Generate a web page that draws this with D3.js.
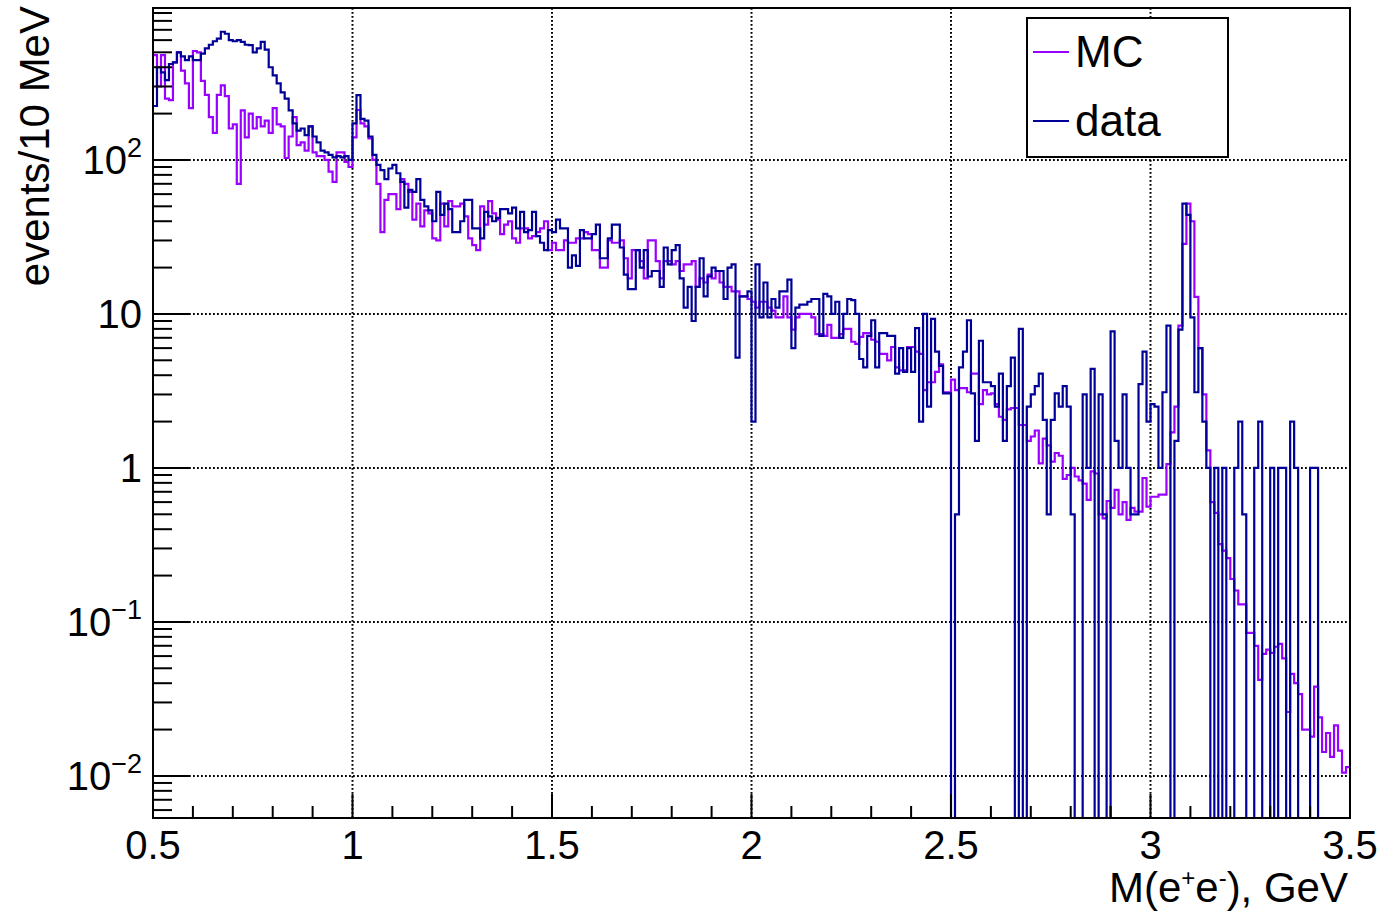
<!DOCTYPE html>
<html>
<head>
<meta charset="utf-8">
<script src="https://cdn.jsdelivr.net/npm/d3@7"></script>
<style>
  body { margin: 0; background: #fff; }
  svg { display: block; font-family: 'Liberation Sans', Arial, Helvetica, sans-serif; }
</style>
</head>
<body>
<svg class="chart"></svg>
<script>
// binning: 300 bins of 10 MeV from 0.5 to 3.5 GeV
const binLow = 0.5;
const binWidth = 0.01;

const mcValues = [
  480, 300, 480, 250, 245, 430, 500, 380, 314, 217,
  510, 500, 326, 265, 190, 150, 265, 305, 260, 160,
  170, 70, 210, 140, 200, 160, 190, 165, 180, 150,
  217, 170, 165, 103, 142, 190, 125, 130, 115, 165,
  112, 106, 106, 100, 84, 72, 112, 112, 97, 90,
  140, 211, 173, 165, 138, 100, 70, 34, 55, 60,
  60, 48, 75, 70, 62, 41, 52, 37, 47, 45,
  31, 30, 52, 37, 54, 50, 50, 52, 43, 31,
  28, 26, 50, 38, 54, 45, 41, 33, 38, 40,
  31, 29, 36, 36, 31, 32, 34, 36, 40, 26,
  29, 26, 26, 30, 29, 29, 31, 31, 34, 33,
  26, 26, 20, 20, 30, 29, 29, 30, 23, 17,
  26, 26, 22, 17, 30, 30, 22, 17, 22, 22,
  21, 22, 19, 21, 21, 22, 15, 17, 16, 18,
  17, 19, 16, 15, 15, 14, 14, 13, 13, 12.5,
  12, 11, 12, 12, 11, 10.5, 9.5, 9.5, 13, 9.5,
  7.9, 9.5, 10, 10, 10, 9.5, 7.4, 7.4, 7.2, 8.5,
  7, 7, 7.4, 8, 8, 6.6, 6.4, 7.1, 7.5, 7.5,
  6.8, 6.6, 5.5, 5.5, 5, 6.1, 4.5, 4.3, 4.3, 6.1,
  6.1, 5.7, 5.5, 3.2, 3.6, 3.6, 4.2, 4.7, 3.1, 3.1,
  3.75, 3.2, 3.3, 3.3, 3.1, 4.1, 4.1, 2.6, 3.2, 3.0,
  3.05, 2.6, 2.15, 2.05, 2.4, 2.45, 2.45, 1.9, 1.9, 1.5,
  1.6, 1.75, 1.07, 1.55, 1.4, 1.1, 1.25, 1.2, 0.85, 0.9,
  1.0, 0.88, 0.83, 0.79, 0.62, 0.95, 0.92, 0.5, 0.47, 0.61,
  0.55, 0.72, 0.5, 0.6, 0.46, 0.55, 0.52, 0.52, 0.86, 0.56,
  0.65, 0.65, 0.67, 0.67, 1.06, 1.7, 2.5, 8.4, 28.5, 52,
  40, 12.9, 6, 3, 1.3, 0.6, 0.51, 0.32, 0.29, 0.26,
  0.19, 0.16, 0.13, 0.13, 0.085, 0.085, 0.07, 0.042, 0.062, 0.066,
  0.063, 0.069, 0.072, 0.058, 0.026, 0.046, 0.04, 0.034, 0.02, 0.02,
  0.018, 0.038, 0.024, 0.0143, 0.019, 0.0133, 0.0213, 0.0146, 0.0105, 0.0114,
];

const dataValues = [
  224, 400, 370, 330, 420, 430, 500, 470, 445, 470,
  445, 445, 490, 530, 560, 590, 614, 680, 660, 600,
  590, 600, 585, 560, 556, 500, 530, 585, 520, 400,
  354, 314, 275, 250, 210, 173, 155, 160, 145, 165,
  142, 130, 115, 112, 108, 104, 106, 104, 106, 100,
  173, 264, 185, 180, 142, 108, 93, 86, 75, 88,
  93, 82, 72, 49, 64, 62, 75, 55, 50, 47,
  40, 62, 44, 52, 48, 34, 34, 40, 55, 55,
  36, 36, 31, 46, 43, 40, 42, 48, 48, 45,
  49, 36, 46, 34, 35, 46, 32, 29, 26, 35,
  34, 41, 36, 36, 20, 24, 20.5, 35, 31, 31,
  33, 38, 23, 23, 31, 38, 38, 27, 18, 14.5,
  14.5, 26, 20, 26, 17.5, 19, 19, 15, 27, 21,
  26, 28, 17, 11, 15, 9, 15, 23, 13, 17.5,
  20, 19, 19, 12.5, 20, 21, 5.2, 13, 13, 14,
  2, 21, 9.5, 16, 9.5, 12.5, 11, 14, 14, 16.7,
  6, 11, 11.5, 11.5, 12, 12.5, 12.5, 7.2, 13.5, 13,
  10, 12, 7, 10, 12.5, 12.3, 10, 5.1, 4.5, 7.2,
  9.1, 4.5, 7.5, 7.5, 7.2, 7.2, 4.1, 6, 4.2, 6,
  4.2, 8.1, 2, 10, 2.5, 9.3, 5.7, 4.6, 3.05, 3.05,
  0, 0.5, 4.5, 5.7, 9.1, 3.05, 1.5, 6.7, 3.6, 3.6,
  3.4, 2.5, 4.1, 1.5, 3.4, 5.2, 0, 8, 0, 2.5,
  3, 3.4, 4.1, 2.05, 0.5, 2.05, 3.05, 2.5, 3.4, 2.5,
  0.5, 0, 0, 3, 1, 4.4, 0, 3, 0.5, 0,
  7.7, 1.5, 1, 3, 1, 0.5, 0.5, 3.5, 5.7, 2,
  2.6, 2.5, 1, 3.1, 8.4, 0, 1.5, 7.9, 52, 44,
  9.5, 3.1, 6, 2, 1, 0, 1, 0, 1, 0,
  0, 1, 2, 0.5, 0, 0, 1, 2, 0, 0,
  1, 0, 1, 1, 0, 2, 1, 0, 0, 0,
  1, 1, 0, 0, 0, 0, 0, 0, 0, 0,
];

const xTickLabels = ['0.5', '1', '1.5', '2', '2.5', '3', '3.5'];
const xTickValues = [0.5, 1, 1.5, 2, 2.5, 3, 3.5];
const yDecades = [-2, -1, 0, 1, 2];
const seriesNames = ['MC', 'data'];
const seriesColors = ['#9a00ff', '#000099'];

const width = 1385;
const height = 914;
const frame = {
  left: 153,
  right: 1350,
  top: 8,
  bottom: 818,
};

const svg = d3.select('svg.chart')
  .attr('width', width)
  .attr('height', height);

svg.append('rect')
  .attr('width', width)
  .attr('height', height)
  .attr('fill', '#fff');

const x = d3.scaleLinear().domain([0.5, 3.5]).range([frame.left, frame.right]);
const y = d3.scaleLog().domain([0.00533, 970]).range([frame.bottom, frame.top]);
const yMin = y.domain()[0];

svg.append('clipPath')
  .attr('id', 'frame-clip')
  .append('rect')
  .attr('x', frame.left)
  .attr('y', frame.top)
  .attr('width', frame.right - frame.left)
  .attr('height', frame.bottom - frame.top);

// dotted grid
const grid = svg.append('g')
  .attr('stroke', '#000')
  .attr('stroke-width', 2)
  .attr('stroke-dasharray', '1.8,2.2');

grid.selectAll('line.gx')
  .data(xTickValues.slice(1, -1))
  .enter()
  .append('line')
  .attr('x1', d => x(d))
  .attr('x2', d => x(d))
  .attr('y1', frame.top)
  .attr('y2', frame.bottom);

grid.selectAll('line.gy')
  .data(yDecades)
  .enter()
  .append('line')
  .attr('x1', frame.left)
  .attr('x2', frame.right)
  .attr('y1', d => y(10 ** d))
  .attr('y2', d => y(10 ** d));

// step outline like ROOT's HIST option
const histPath = (values) => {
  const p = d3.path();
  values.forEach((v, i) => {
    const lo = x(binLow + i * binWidth);
    const hi = x(binLow + (i + 1) * binWidth);
    const yy = y(Math.max(v, yMin));
    if (i === 0) p.moveTo(lo, yy);
    else p.lineTo(lo, yy);
    p.lineTo(hi, yy);
  });
  return p.toString();
};

const hists = svg.append('g').attr('clip-path', 'url(#frame-clip)');

[mcValues, dataValues].forEach((vals, k) => {
  hists.append('path')
    .attr('d', histPath(vals))
    .attr('fill', 'none')
    .attr('stroke', seriesColors[k])
    .attr('stroke-width', 2.2)
    .attr('stroke-linejoin', 'miter');
});

// frame
svg.append('rect')
  .attr('x', frame.left)
  .attr('y', frame.top)
  .attr('width', frame.right - frame.left)
  .attr('height', frame.bottom - frame.top)
  .attr('fill', 'none')
  .attr('stroke', '#000')
  .attr('stroke-width', 2);

// x ticks (inside, from the bottom)
const xMinor = d3.range(5, 36).map(d => d / 10);
svg.append('g')
  .selectAll('line')
  .data(xMinor)
  .enter()
  .append('line')
  .attr('x1', d => x(d))
  .attr('x2', d => x(d))
  .attr('y1', frame.bottom)
  .attr('y2', d => frame.bottom - (Math.abs(d * 2 - Math.round(d * 2)) < 1e-6 ? 24 : 12))
  .attr('stroke', '#000')
  .attr('stroke-width', 2);

// y ticks (log: decades long, 2..9 short)
const yTicks = [];
d3.range(-3, 3).forEach((dec) => {
  d3.range(1, 10).forEach((k) => {
    const v = k * (10 ** dec);
    if (v >= yMin && v <= y.domain()[1]) yTicks.push({ v, major: k === 1 });
  });
});

svg.append('g')
  .selectAll('line')
  .data(yTicks)
  .enter()
  .append('line')
  .attr('x1', frame.left)
  .attr('x2', d => frame.left + (d.major ? 37 : 19))
  .attr('y1', d => y(d.v))
  .attr('y2', d => y(d.v))
  .attr('stroke', '#000')
  .attr('stroke-width', 2);

// x tick labels
svg.append('g')
  .selectAll('text')
  .data(xTickValues)
  .enter()
  .append('text')
  .attr('x', d => x(d))
  .attr('y', 859)
  .attr('text-anchor', 'middle')
  .attr('font-size', 40)
  .text((d, i) => xTickLabels[i]);

// y tick labels
const yLabel = svg.append('g')
  .selectAll('text')
  .data(yDecades)
  .enter()
  .append('text')
  .attr('x', 142)
  .attr('y', d => y(10 ** d) + 14)
  .attr('text-anchor', 'end')
  .attr('font-size', 40);

yLabel.filter(d => d === 0).text('1');
yLabel.filter(d => d === 1).text('10');
yLabel.filter(d => d !== 0 && d !== 1)
  .text('10')
  .append('tspan')
  .attr('font-size', 27)
  .attr('dy', -17)
  .text(d => (d < 0 ? `\u2212${-d}` : `${d}`));

// axis titles
svg.append('text')
  .attr('transform', 'translate(49,6) rotate(-90)')
  .attr('text-anchor', 'end')
  .attr('font-size', 42)
  .text('events/10 MeV');

const xTitle = svg.append('text')
  .attr('x', 1348)
  .attr('y', 902)
  .attr('text-anchor', 'end')
  .attr('font-size', 42);
xTitle.append('tspan').text('M(e');
xTitle.append('tspan').attr('font-size', 24).attr('dy', -16).text('+');
xTitle.append('tspan').attr('dy', 16).text('e');
xTitle.append('tspan').attr('font-size', 24).attr('dy', -16).text('-');
xTitle.append('tspan').attr('dy', 16).text('), GeV');

// legend
const legend = svg.append('g');
legend.append('rect')
  .attr('x', 1027)
  .attr('y', 18)
  .attr('width', 201)
  .attr('height', 139)
  .attr('fill', '#fff')
  .attr('stroke', '#000')
  .attr('stroke-width', 2);

const entry = legend.selectAll('g.entry')
  .data(seriesNames)
  .enter()
  .append('g')
  .attr('transform', (d, i) => `translate(0,${52 + i * 69})`);

entry.append('line')
  .attr('x1', 1033)
  .attr('x2', 1069)
  .attr('y1', 0)
  .attr('y2', 0)
  .attr('stroke', (d, i) => seriesColors[i])
  .attr('stroke-width', 2);

entry.append('text')
  .attr('x', 1075)
  .attr('y', 15)
  .attr('font-size', 44)
  .text(d => d);
</script>
</body>
</html>
